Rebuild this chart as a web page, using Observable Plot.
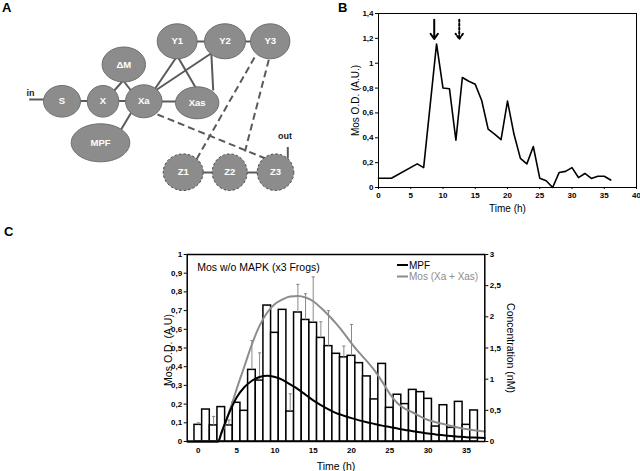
<!DOCTYPE html>
<html>
<head>
<meta charset="utf-8">
<script src="https://cdn.jsdelivr.net/npm/d3@7"></script>
<script src="https://cdn.jsdelivr.net/npm/@observablehq/plot@0.6"></script>
<style>
  body { margin: 0; background: #fff; }
  #wrap { position: relative; width: 640px; height: 471px; overflow: hidden; font-family: "Liberation Sans", Arial, sans-serif; background: #fff; }
  .pos { position: absolute; }
  .letter { position: absolute; font-weight: bold; font-size: 13px; line-height: 13px; }
</style>
</head>
<body>
<div id="wrap">
  <div id="panelA" class="pos" style="left:0;top:0"></div>
  <div id="panelB" class="pos" style="left:330px;top:0"></div>
  <div id="panelC" class="pos" style="left:130px;top:240px"></div>
  <div id="legendC" class="pos" style="left:394px;top:257px"></div>
  <div class="letter" style="left:2px;top:1px">A</div>
  <div class="letter" style="left:338px;top:1px">B</div>
  <div class="letter" style="left:4px;top:225px">C</div>
</div>
<script>
// ---------------- Panel A: network diagram ----------------
const nodeNames = ["S", "X", "Xa", "Xas", "ΔM", "MPF", "Y1", "Y2", "Y3", "Z1", "Z2", "Z3"];
const nodeX     = [61.5, 102.5, 143.3, 196.7, 123.3, 100, 176.7, 224.5, 269.7, 182.7, 229.2, 275];
const nodeY     = [100.8, 100.8, 100.8, 102.3, 64, 142.3, 40.8, 40.8, 40.8, 171.7, 171.7, 171.7];
const nodeRx    = [18.5, 15.8, 18.3, 21.7, 21.7, 29.3, 20, 20.5, 19.7, 20, 17.5, 18.3];
const nodeRy    = [15.8, 15.8, 16.5, 16, 17.5, 19, 17.5, 17.5, 17.5, 18.3, 18.3, 18.3];
const nodeDashed = [false, false, false, false, false, false, false, false, false, true, true, true];

// edges: start / end points
const edgeX1 = [28.7, 75, 112, 155, 112, 132, 132, 152, 152, 176.5, 210.7, 190, 238, 195, 240, 287.3, 157, 254, 268.3];
const edgeY1 = [99, 100.5, 100.5, 101, 92, 92, 110, 92, 92, 55, 50, 41, 41, 172, 172, 158, 114, 57, 59.3];
const edgeX2 = [50, 92, 132, 185, 122.7, 122.7, 120, 175.7, 212, 198, 212.7, 210, 255, 218, 262, 287.3, 265, 196.5, 244.5];
const edgeY2 = [99, 100.5, 100.5, 101, 80, 80, 130, 57, 52, 92, 90, 41, 41, 172, 172, 146.5, 158, 158, 151];
const edgeDashed = [false, false, false, false, false, false, false, false, false, false, false, false, false, false, false, false, true, true, true];

const termLabels = ["in", "out"];
const termX = [30, 284.5];
const termY = [93, 136];

const nodes = nodeNames.map((name, i) => ({name, x: nodeX[i], y: nodeY[i], rx: nodeRx[i], ry: nodeRy[i], dashed: nodeDashed[i]}));
const edges = edgeX1.map((_, i) => ({x1: edgeX1[i], y1: edgeY1[i], x2: edgeX2[i], y2: edgeY2[i], dashed: edgeDashed[i]}));
const terms = termLabels.map((t, i) => ({t, x: termX[i], y: termY[i]}));

function ellipseSymbol(k) {
  return {
    draw(ctx, size) {
      const r = Math.sqrt(size / Math.PI);
      const rx = r * k, ry = r, c = 0.5523;
      ctx.moveTo(rx, 0);
      ctx.bezierCurveTo(rx, ry * c, rx * c, ry, 0, ry);
      ctx.bezierCurveTo(-rx * c, ry, -rx, ry * c, -rx, 0);
      ctx.bezierCurveTo(-rx, -ry * c, -rx * c, -ry, 0, -ry);
      ctx.bezierCurveTo(rx * c, -ry, rx, -ry * c, rx, 0);
      ctx.closePath();
    }
  };
}
const hlineSymbol = {
  draw(ctx, size) {
    const r = Math.sqrt(size / Math.PI);
    ctx.moveTo(-r, 0);
    ctx.lineTo(r, 0);
  }
};

const font = "Liberation Sans, Arial, sans-serif";

const plotA = Plot.plot({
  width: 320, height: 225,
  marginLeft: 0, marginRight: 0, marginTop: 0, marginBottom: 0,
  x: {domain: [0, 320], range: [0, 320], axis: null},
  y: {domain: [0, 225], range: [0, 225], axis: null},
  style: {fontFamily: font, background: "transparent", overflow: "visible"},
  marks: [
    Plot.link(edges.filter(e => !e.dashed), {x1: "x1", y1: "y1", x2: "x2", y2: "y2", stroke: "#5a5a5a", strokeWidth: 2}),
    Plot.link(edges.filter(e => e.dashed), {x1: "x1", y1: "y1", x2: "x2", y2: "y2", stroke: "#5a5a5a", strokeWidth: 2, strokeDasharray: "7,4"}),
    ...nodes.map(n => Plot.dot([n], {
      x: "x", y: "y", r: n.ry, symbol: ellipseSymbol(n.rx / n.ry),
      fill: "#8c8c8c", stroke: n.dashed ? "#4f4f4f" : "#6f6f6f", strokeWidth: 1,
      strokeDasharray: n.dashed ? "2.5,2" : null
    })),
    Plot.text(nodes, {x: "x", y: "y", text: "name", fill: "white", fontWeight: "bold", fontSize: 9.5}),
    Plot.text(terms, {x: "x", y: "y", text: "t", fill: "#222", fontWeight: "bold", fontSize: 9})
  ]
});
document.getElementById("panelA").appendChild(plotA);

// ---------------- Panel B: Mos O.D. time course ----------------
const bTime = [0, 2, 6, 7, 9, 10, 11, 12, 13, 14, 15, 16, 17, 18, 19, 20, 21, 22, 23, 24, 25, 26, 27, 28, 29, 30, 31, 32, 33, 34, 35, 36];
const bMos  = [0.075, 0.075, 0.19, 0.16, 1.155, 0.80, 0.795, 0.38, 0.885, 0.855, 0.83, 0.70, 0.47, 0.43, 0.385, 0.695, 0.43, 0.234, 0.19, 0.33, 0.075, 0.054, 0.0, 0.12, 0.13, 0.16, 0.08, 0.113, 0.073, 0.09, 0.09, 0.06];
const bArrowTime = [8.64, 12.52];
const bArrowTop = [1.35, 1.35];
const bArrowBottom = [1.195, 1.195];
const bArrowDash = [null, "2,2"];
const bXTicks = [0, 5, 10, 15, 20, 25, 30, 35, 40];
const bYTicks = [0, 0.2, 0.4, 0.6, 0.8, 1, 1.2, 1.4];

const comma = d => { const v = Math.round(d * 10) / 10; return v === 0 ? "0" : String(v).replace(".", ","); };

const bData = bTime.map((t, i) => ({t, v: bMos[i]}));
const bArrows = bArrowTime.map((t, i) => ({t, top: bArrowTop[i], bottom: bArrowBottom[i], dash: bArrowDash[i]}));

const plotB = Plot.plot({
  width: 310, height: 225,
  marginLeft: 48, marginRight: 4, marginTop: 13, marginBottom: 38,
  x: {domain: [0, 40]},
  y: {domain: [0, 1.4]},
  style: {fontFamily: font, fontSize: "8px", background: "transparent", overflow: "visible"},
  marks: [
    Plot.axisX({ticks: bXTicks, tickSize: 2, tickPadding: 3, tickFormat: d => String(d), fontWeight: "bold", label: null}),
    Plot.axisY({ticks: bYTicks, tickSize: 3, tickPadding: 2, tickFormat: comma, fontWeight: "bold", label: null}),
    Plot.frame({stroke: "black", strokeWidth: 1}),
    Plot.line(bData, {x: "t", y: "v", stroke: "black", strokeWidth: 1.6}),
    ...bArrows.map(a => Plot.arrow([a], {x1: "t", x2: "t", y1: "top", y2: "bottom", stroke: "black", strokeWidth: 2, headLength: 7, headAngle: 70, strokeDasharray: a.dash})),
    Plot.text(["Time (h)"], {frameAnchor: "bottom", lineAnchor: "middle", dy: 21, fontSize: 10}),
    Plot.text(["Mos O.D. (A.U.)"], {frameAnchor: "left", textAnchor: "middle", lineAnchor: "middle", rotate: -90, dx: -23, fontSize: 10})
  ]
});
document.getElementById("panelB").appendChild(plotB);

// ---------------- Panel C: bars + model curves ----------------
const cTime = [0, 1, 2, 3, 4, 5, 6, 7, 8, 9, 10, 11, 12, 13, 14, 15, 16, 17, 18, 19, 20, 21, 22, 23, 24, 25, 26, 27, 28, 29, 30, 31, 32, 33, 34, 35, 36];
const cMos  = [0.089, 0.171, 0.086, 0.184, 0.086, 0.207, 0.164, 0.383, 0.326, 0.727, 0.581, 0.704, 0.160, 0.690, 0.650, 0.635, 0.554, 0.510, 0.469, 0.450, 0.458, 0.419, 0.348, 0.225, 0.415, 0.180, 0.250, 0.200, 0.276, 0.264, 0.228, 0.080, 0.194, 0.073, 0.212, 0.089, 0.166];
const errTime = [0, 2, 4, 7, 8, 12, 13, 14, 15, 16, 17, 19, 20];
const errTop  = [0.100, 0.134, 0.115, 0.540, 0.474, 0.255, 0.840, 0.790, 0.880, 0.640, 0.700, 0.510, 0.626];

const curveTime = [-1.4, 2.6, 3, 3.5, 4, 4.5, 5, 6, 7, 8, 9, 10, 11, 12, 13, 14, 15, 16, 17, 18, 19, 20, 21, 22, 23, 24, 25, 26, 27, 28, 29, 30, 31, 32, 33, 34, 35, 36, 37.4];
// concentrations in nM (right axis)
const mpfConc = [0, 0, 0.135, 0.30, 0.45, 0.585, 0.705, 0.87, 0.975, 1.035, 1.056, 1.035, 0.99, 0.915, 0.84, 0.75, 0.66, 0.585, 0.516, 0.456, 0.414, 0.375, 0.339, 0.309, 0.282, 0.255, 0.231, 0.207, 0.186, 0.165, 0.147, 0.129, 0.114, 0.099, 0.087, 0.078, 0.069, 0.063, 0.057];
const mosConc = [0, 0, 0.12, 0.27, 0.465, 0.645, 0.84, 1.20, 1.56, 1.86, 2.07, 2.205, 2.28, 2.325, 2.334, 2.31, 2.25, 2.145, 2.025, 1.89, 1.74, 1.575, 1.425, 1.29, 1.14, 0.96, 0.765, 0.615, 0.525, 0.465, 0.40, 0.345, 0.31, 0.28, 0.25, 0.22, 0.20, 0.18, 0.16];
const concMax = 3;   // right axis max (nM) corresponds to left axis max 1
const cXTicks = [0, 5, 10, 15, 20, 25, 30, 35];
const cYTicks = [0, 0.1, 0.2, 0.3, 0.4, 0.5, 0.6, 0.7, 0.8, 0.9, 1];
const cRightTicks = [0, 0.5, 1, 1.5, 2, 2.5, 3];

const bars = cTime.map((t, i) => ({t, v: cMos[i]}));
const errs = errTime.map((t, i) => ({t, v: cMos[cTime.indexOf(t)], e: errTop[i]}));
const mpf = curveTime.map((t, i) => ({t, c: mpfConc[i]}));
const mos = curveTime.map((t, i) => ({t, c: mosConc[i]}));

const plotC = Plot.plot({
  width: 410, height: 231,
  marginLeft: 56.7, marginRight: 55.7, marginTop: 14, marginBottom: 30,
  x: {domain: [-1.45, 37.4]},
  y: {domain: [0, 1]},
  style: {fontFamily: font, fontSize: "8px", background: "transparent", overflow: "visible"},
  marks: [
    Plot.rect(bars, {x1: d => d.t - 0.5, x2: d => d.t + 0.5, y1: d => 0, y2: "v", fill: "white", stroke: "black", strokeWidth: 1.5}),
    Plot.ruleX(errs, {x: "t", y1: "v", y2: "e", stroke: "#8a8a8a", strokeWidth: 1}),
    Plot.dot(errs, {x: "t", y: "e", r: 1.6, symbol: hlineSymbol, stroke: "#8a8a8a", strokeWidth: 1}),
    Plot.line(mos, {x: "t", y: d => d.c / concMax, stroke: "#8c8c8c", strokeWidth: 2, curve: "monotone-x"}),
    Plot.line(mpf, {x: "t", y: d => d.c / concMax, stroke: "black", strokeWidth: 2, curve: "monotone-x"}),
    Plot.frame({stroke: "black", strokeWidth: 1.5}),
    Plot.axisX({ticks: cXTicks, tickSize: 0, tickPadding: 6, tickFormat: d => String(d), fontWeight: "bold", label: null}),
    Plot.axisY({ticks: cYTicks, tickSize: 3, tickPadding: 2, tickFormat: comma, fontWeight: "bold", label: null}),
    Plot.axisY({anchor: "right", ticks: cRightTicks.map(v => v / concMax), tickSize: 3, tickPadding: 2, tickFormat: d => comma(d * concMax), fontWeight: "bold", label: null}),
    Plot.text(["Time (h)"], {frameAnchor: "bottom", lineAnchor: "middle", dy: 25.5, fontSize: 10.5}),
    Plot.text(["Mos O.D. (A.U)"], {frameAnchor: "left", textAnchor: "middle", lineAnchor: "middle", rotate: -90, dx: -19, dy: 2, fontSize: 10.5}),
    Plot.text(["Concentration (nM)"], {frameAnchor: "right", textAnchor: "middle", lineAnchor: "middle", rotate: 90, dx: 26, fontSize: 10.5}),
    Plot.text(["Mos w/o MAPK (x3 Frogs)"], {frameAnchor: "top-left", textAnchor: "start", lineAnchor: "middle", dx: 10, dy: 13.5, fontSize: 10.5})
  ]
});
document.getElementById("panelC").appendChild(plotC);

// legend for panel C
const legendNames = ["MPF", "Mos (Xa + Xas)"];
const legendColors = ["black", "#8c8c8c"];
const leg = d3.select("#legendC").append("svg").attr("width", 95).attr("height", 28)
  .style("font-family", font).style("font-size", "10px").style("overflow", "visible");
legendNames.forEach((name, i) => {
  const y = 8 + i * 11.5;
  leg.append("line").attr("x1", 3).attr("x2", 14).attr("y1", y).attr("y2", y).attr("stroke", legendColors[i]).attr("stroke-width", 2);
  leg.append("text").attr("x", 15).attr("y", y).attr("dy", "0.35em").attr("fill", legendColors[i]).text(name);
});
</script>
</body>
</html>
